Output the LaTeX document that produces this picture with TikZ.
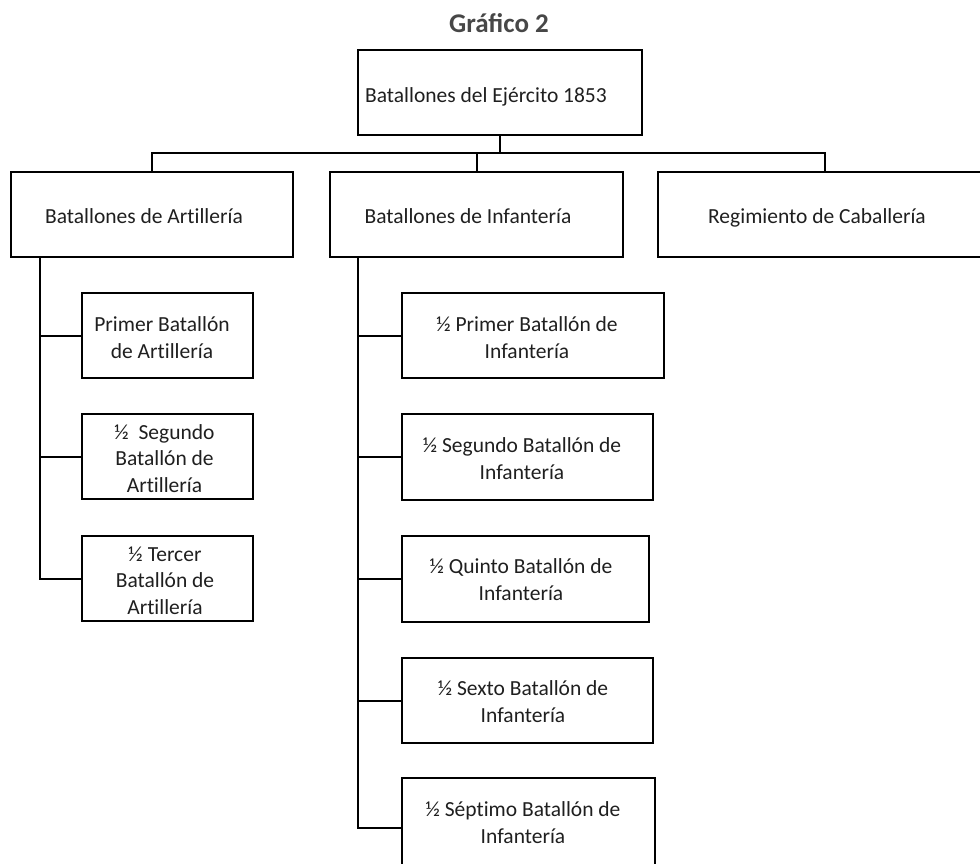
\documentclass[tikz,border=0pt]{standalone}
\usepackage{fontspec}
\setmainfont{Carlito}
\newfontfamily\boxfont{Carlito}[Ligatures=CommonOff]
\begin{document}
\begin{tikzpicture}[x=1pt,y=-1pt,
  box/.style={draw=black, line width=2pt, rectangle, inner sep=0pt, minimum height=85pt},
  link/.style={draw=black, line width=2pt},
  lbl/.style={inner sep=0pt, anchor=base, align=center, text=black!88,
    font=\boxfont\fontsize{21.5}{26.5}\selectfont},
  heading/.style={inner sep=0pt, anchor=base, text=black!72,
    font=\bfseries\fontsize{27}{32}\selectfont}]
\useasboundingbox (0,0) rectangle (980,863);
\clip (0,0) rectangle (980,863);

% title
\node[heading] (title) at (499,32) {Gráfico 2};

% top level
\node[box, minimum width=284pt] (top) at (500,92.5) {};
\node[lbl] (ttop) at (486,102) {Batallones del Ejército 1853};

% second level
\node[box, minimum width=282pt] (art) at (152,214.5) {};
\node[box, minimum width=293pt] (inf) at (476.5,214.5) {};
\node[box, minimum width=334pt] (cab) at (825,214.5) {};
\node[lbl] (tart) at (144,223) {Batallones de Artillería};
\node[lbl] (tinf) at (468,223) {Batallones de Infantería};
\node[lbl] (tcab) at (817,223) {Regimiento de Caballería};

% artillery battalions (anchor = baseline of the last line)
\node[box, minimum width=171pt] (a1) at (167.5,335.5) {};
\node[box, minimum width=171pt] (a2) at (167.5,456.5) {};
\node[box, minimum width=171pt] (a3) at (167.5,578.5) {};
\node[lbl] (ta1) at (162,358) {Primer Batallón\\de Artillería};
\node[lbl] (ta2) at (164.5,492) {½\ \ Segundo\\Batallón de\\Artillería};
\node[lbl] (ta3) at (165,614) {½ Tercer\\Batallón de\\Artillería};

% infantry battalions
\node[box, minimum width=262pt] (i1) at (533,335.5) {};
\node[box, minimum width=251pt, minimum height=86pt] (i2) at (527.5,457) {};
\node[box, minimum width=247pt, minimum height=86pt] (i3) at (525.5,579) {};
\node[box, minimum width=251pt] (i4) at (527.5,700.5) {};
\node[box, minimum width=253pt, minimum height=100pt] (i5) at (528.5,828) {};
\node[lbl] (ti1) at (527,358) {½ Primer Batallón de\\Infantería};
\node[lbl] (ti2) at (522,479) {½ Segundo Batallón de\\Infantería};
\node[lbl] (ti3) at (521,600) {½ Quinto Batallón de\\Infantería};
\node[lbl] (ti4) at (523,722) {½ Sexto Batallón de\\Infantería};
\node[lbl] (ti5) at (523,843) {½ Séptimo Batallón de\\Infantería};

% connectors from the top box
\coordinate (bus) at (500,153);
\draw[link] (top.south) -- (bus);
\draw[link] (art.north) |- (bus) -| (cab.north);
\draw[link] (inf.north) -- (inf.north |- bus);

% artillery spine
\coordinate (aspine) at (40,257);
\draw[link] (aspine) |- (a3.west);
\draw[link] (a1.west -| aspine) -- (a1.west);
\draw[link] (a2.west -| aspine) -- (a2.west);

% infantry spine
\coordinate (ispine) at (358,257);
\draw[link] (ispine) |- (i5.west);
\foreach \b in {i1,i2,i3,i4}
  \draw[link] (\b.west -| ispine) -- (\b.west);
\end{tikzpicture}
\end{document}
